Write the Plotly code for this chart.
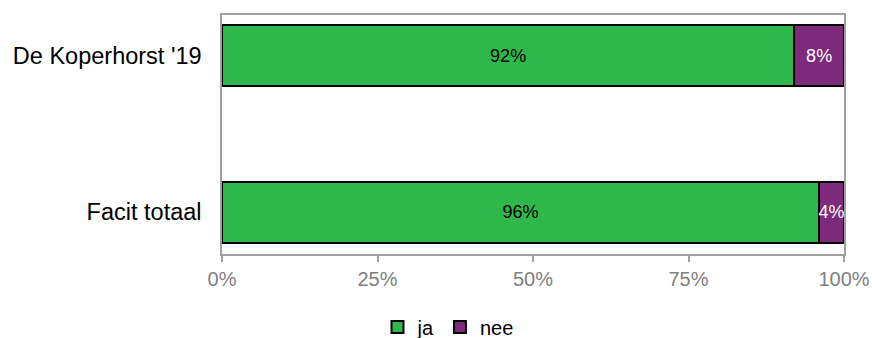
import plotly.graph_objects as go

# Survey answers per group (share of respondents)
categories = ["Facit totaal", "De Koperhorst '19"]
ja_values = [0.96, 0.92]
nee_values = [0.04, 0.08]
x_ticks = [0, 0.25, 0.5, 0.75, 1.0]
x_tick_labels = ["0%", "25%", "50%", "75%", "100%"]

GREEN = "#2eb84b"
PURPLE = "#7d297c"
GREY = "#a0a0a0"
FONT = "Liberation Sans, Arial, sans-serif"

fig = go.Figure()
fig.add_trace(go.Bar(
    name="ja", y=categories, x=ja_values, orientation="h",
    marker=dict(color=GREEN, line=dict(color="black", width=2)),
    text=[f"{v:.0%}" for v in ja_values], textposition="inside",
    insidetextanchor="middle", constraintext="none", textangle=0,
    textfont=dict(color="black", size=18, family=FONT),
    width=0.39,
))
fig.add_trace(go.Bar(
    name="nee", y=categories, x=nee_values, orientation="h",
    marker=dict(color=PURPLE, line=dict(color="black", width=2)),
    text=[f"{v:.0%}" for v in nee_values], textposition="inside",
    insidetextanchor="middle", constraintext="none", textangle=0,
    textfont=dict(color="white", size=18, family=FONT),
    width=0.39,
))

fig.update_layout(
    barmode="stack",
    width=872, height=338,
    margin=dict(l=222, r=28, t=15, b=84, autoexpand=False),
    paper_bgcolor="white", plot_bgcolor="white",
    font=dict(family=FONT, color="black"),
    showlegend=True,
    legend=dict(
        orientation="h", x=0.25, xanchor="left", y=-0.305, yanchor="middle",
        font=dict(size=20, color="black", family=FONT),
        itemwidth=30, traceorder="normal", tracegroupgap=0,
        bgcolor="rgba(0,0,0,0)",
    ),
    uniformtext=dict(mode=False),
)
fig.update_xaxes(
    range=[0, 1], tickvals=x_ticks, ticktext=x_tick_labels,
    showgrid=False, zeroline=False, automargin=False,
    showline=True, linecolor=GREY, linewidth=1.5, mirror=True,
    ticks="outside", ticklen=6, tickcolor=GREY, tickwidth=1.5,
    tickfont=dict(size=20, color="#808080", family=FONT),
)
fig.update_yaxes(
    type="category", categoryorder="array", categoryarray=categories,
    range=[-0.268, 1.259], automargin=False,
    showgrid=False, zeroline=False,
    showline=True, linecolor=GREY, linewidth=1.5, mirror=True,
    ticks="", ticklabelstandoff=14,
    tickfont=dict(size=23.5, color="black", family=FONT),
)

fig.write_html("out.html")
